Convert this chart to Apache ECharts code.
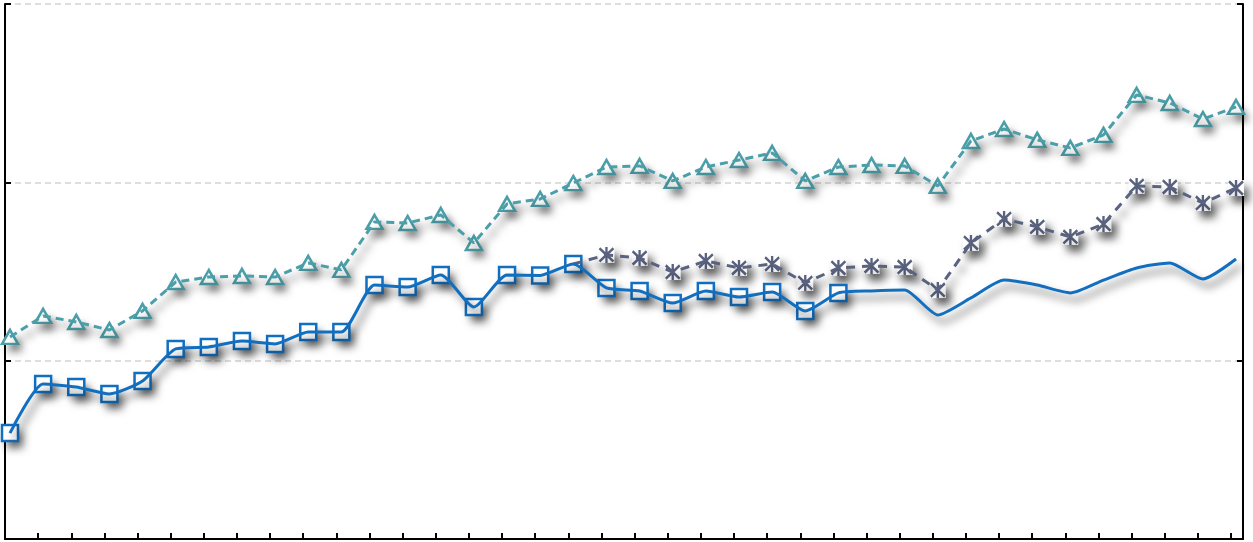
<!DOCTYPE html>
<html>
<head>
<meta charset="utf-8">
<script src="https://cdn.jsdelivr.net/npm/echarts@6/dist/echarts.min.js"></script>
<style>
  html, body { margin: 0; padding: 0; background: #fff; }
  #chart { width: 1253px; height: 542px; }
</style>
</head>
<body>
<div id="chart"></div>
<script>
  // index of each period along the x axis
  var periods = [0, 1, 2, 3, 4, 5, 6, 7, 8, 9, 10, 11, 12, 13, 14, 15, 16, 17, 18, 19,
                 20, 21, 22, 23, 24, 25, 26, 27, 28, 29, 30, 31, 32, 33, 34, 35, 36, 37];

  var upper = [113.3, 125.1, 121.7, 117.2, 127.9, 144.1, 146.9, 147.5, 146.9, 154.8,
               150.9, 177.8, 177.2, 181.7, 166.0, 187.9, 190.7, 199.6, 208.6, 209.2,
               200.8, 208.6, 212.5, 216.5, 200.8, 208.6, 209.7, 209.2, 198.0, 223.2,
               229.9, 223.8, 219.3, 226.6, 249.0, 244.5, 235.5, 242.3];

  var actual = [59.4, 86.9, 85.2, 81.3, 88.6, 106.6, 107.7, 111.0, 109.4, 116.1,
                116.1, 142.4, 141.3, 148.1, 130.1, 148.1, 147.8, 154.2, 140.8, 139.1,
                132.3, 139.1, 135.7, 138.5, 127.9, 138.0, 139.1, 139.6, 125.6, 135.2,
                145.2, 142.4, 138.0, 145.2, 152.0, 154.8, 145.8, 157.0];

  var middle = [null, null, null, null, null, null, null, null, null, null,
                null, null, null, null, null, null, null, 154.2, 159.3, 157.6,
                149.7, 155.9, 152.0, 154.2, 143.6, 152.0, 153.1, 152.5, 139.6, 166.0,
                179.5, 175.0, 169.4, 176.6, 198.0, 197.4, 188.4, 196.8];

  var yTicks = [0, 100, 200, 300];

  var lastMarked = 25;   // blue markers stop here, the rest is a plain curve

  function pairs(vals) {
    var out = [];
    for (var i = 0; i < periods.length; i++) {
      if (vals[i] != null) out.push([periods[i], vals[i]]);
    }
    return out;
  }

  var shadow = { shadowColor: 'rgba(0,0,0,0.6)', shadowBlur: 8, shadowOffsetX: 5, shadowOffsetY: 7 };

  var upperData = pairs(upper);
  var actualData = pairs(actual);
  var actualMarks = actualData.slice(0, lastMarked + 1);
  var middleData = pairs(middle);
  var middleMarks = middleData.slice(1);

  var chart = echarts.init(document.getElementById('chart'));

  var axisBlack = { show: true, onZero: false, lineStyle: { color: '#000', width: 2 } };
  var tickIn = { show: true, inside: true, length: 6, lineStyle: { color: '#000', width: 2 } };

  // white shape behind a marker, carrying the drop shadow
  function backing(data, symbol, size) {
    return {
      type: 'scatter', data: data, symbol: symbol, symbolSize: size, silent: true,
      itemStyle: Object.assign({ color: '#fff', opacity: 1 }, shadow)
    };
  }

  function marks(data, symbol, size, color, fill) {
    return {
      type: 'scatter', data: data, symbol: symbol, symbolSize: size, silent: true,
      itemStyle: { color: fill, borderColor: color, borderWidth: 2.5, opacity: 1 }
    };
  }

  var option = {
    animation: false,
    grid: { left: 5, right: 10, top: 4, bottom: 3 },
    xAxis: [
      {
        type: 'value', min: -0.151, max: 37.21, show: false
      },
      {
        type: 'value', min: 0, max: 37.36, interval: 1, position: 'bottom',
        axisLine: axisBlack, axisTick: tickIn, axisLabel: { show: false },
        splitLine: { show: false }
      }
    ],
    yAxis: [
      {
        type: 'value', min: yTicks[0], max: yTicks[yTicks.length - 1], interval: 100,
        position: 'left',
        axisLine: axisBlack, axisTick: tickIn, axisLabel: { show: false },
        splitLine: { show: true, lineStyle: { color: '#d4d4d4', type: [6, 4], width: 1.5 } }
      },
      {
        type: 'value', min: yTicks[0], max: yTicks[yTicks.length - 1], interval: 100,
        position: 'right',
        axisLine: axisBlack, axisTick: tickIn, axisLabel: { show: false },
        splitLine: { show: false }
      }
    ],
    series: [
      {
        name: 'upper',
        type: 'line',
        data: upperData,
        symbol: 'none',
        lineStyle: Object.assign({ color: '#4b9fa9', width: 3, type: [8, 5] }, shadow)
      },
      backing(upperData, 'triangle', [16, 14]),
      marks(upperData, 'triangle', [16, 14], '#4b9fa9', '#fff'),
      {
        name: 'middle',
        type: 'line',
        data: middleData,
        symbol: 'none',
        lineStyle: Object.assign({ color: '#59627f', width: 3, type: [9, 7] }, shadow)
      },
      backing(middleMarks, 'rect', 16),
      marks(middleMarks, 'path://M0,1L10,11M10,1L0,11M5,0L5,12', [14, 16], '#59627f', 'rgba(0,0,0,0)'),
      {
        name: 'actual',
        type: 'line',
        data: actualData,
        smooth: 0.2,
        symbol: 'none',
        lineStyle: Object.assign({ color: '#126fbf', width: 3 }, shadow)
      },
      backing(actualMarks, 'rect', 16),
      marks(actualMarks, 'rect', 16, '#126fbf', '#fff')
    ]
  };
  chart.setOption(option);
</script>
</body>
</html>
